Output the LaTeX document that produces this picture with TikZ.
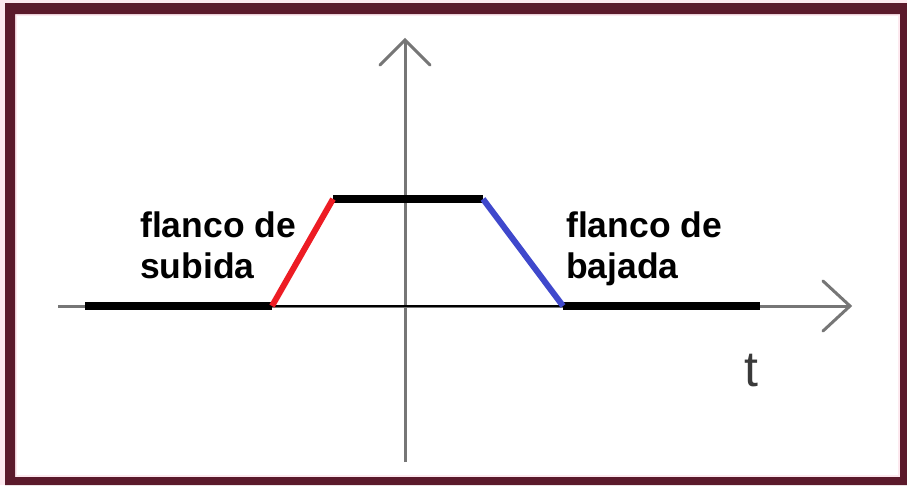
\documentclass[tikz,border=0pt]{standalone}
\usepackage{fontspec}
\setmainfont{Liberation Sans}
\begin{document}
\begin{tikzpicture}[x=1pt,y=-1pt,
  axisline/.style={draw=axisgray,line width=3pt},
  tipline/.style={draw=axisgray,line width=3pt,line cap=round,line join=miter},
  level/.style={draw=black,line width=8pt},
  edgeup/.style={draw=flankred,line width=6pt},
  edgedown/.style={draw=flankblue,line width=6pt},
  lbl/.style={font=\fontsize{35.5}{41}\selectfont\bfseries,inner sep=0pt,anchor=base west},
  tlbl/.style={font=\fontsize{50}{56}\selectfont,text=tgray,inner sep=0pt,anchor=base west}]
\definecolor{frame}{HTML}{5B1A2B}
\definecolor{margin}{HTML}{FDE9EF}
\definecolor{axisgray}{HTML}{767676}
\definecolor{flankred}{HTML}{ED1C24}
\definecolor{flankblue}{HTML}{3F48CC}
\definecolor{tgray}{HTML}{3A3A3A}
\useasboundingbox (0,0) rectangle (907,485);
\fill[margin] (0,0) rectangle (907,485);
\fill[white] (17,16) rectangle (898,475);
\fill[frame,even odd rule] (5,3) rectangle (907,485) (15,14) rectangle (900,477);
% axes
\coordinate (xstart) at (58,306);
\coordinate (xend) at (850,306);
\coordinate (ystart) at (405,462);
\coordinate (yend) at (405,40);
\draw[axisline] (xstart) -- (xend);
\draw[axisline] (ystart) -- (yend);
\draw[tipline] (823,281) -- (xend) -- (823,331);
\draw[tipline] (380,65) -- (yend) -- (430,65);
% signal
\coordinate (a) at (85,306);
\coordinate (b) at (272,306);
\coordinate (c) at (333,199);
\coordinate (d) at (483,199);
\coordinate (e) at (563,306);
\coordinate (f) at (760,306);
\draw[black,line width=2pt] (b) -- (e);
\draw[level] (a) -- (b);
\draw[level] (c) -- (d);
\draw[level] (e) -- (f);
\draw[edgeup] (b) -- (c);
\draw[edgedown] (d) -- (e);
% labels
\node[lbl] (up1) at (140,237) {flanco de};
\node[lbl] (up2) at (140,278) {subida};
\node[lbl] (dn1) at (566,237) {flanco de};
\node[lbl] (dn2) at (566,278) {bajada};
\node[tlbl] (t) at (744,386) {t};
\end{tikzpicture}
\end{document}
